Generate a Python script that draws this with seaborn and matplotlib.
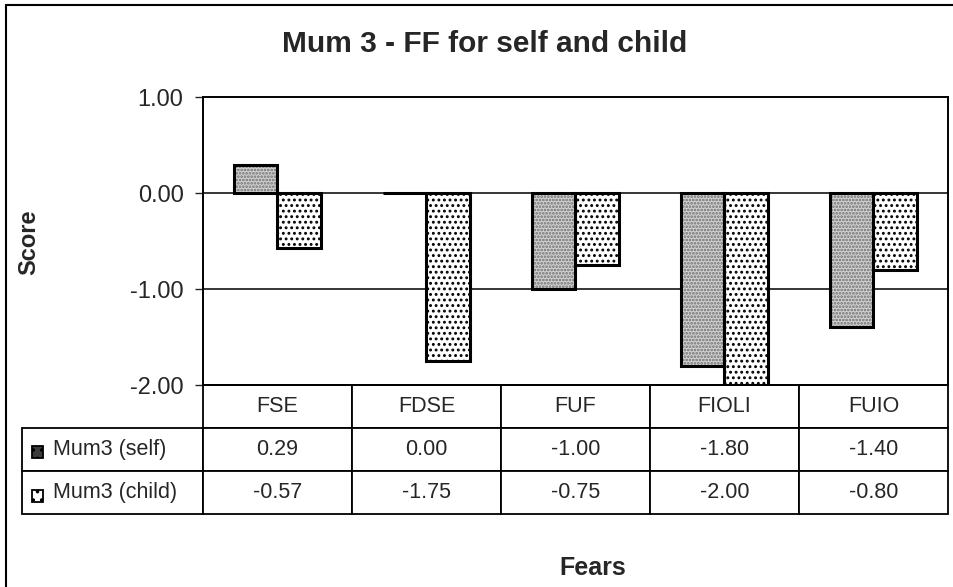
import numpy as np
import pandas as pd
import matplotlib
matplotlib.use("Agg")
import matplotlib.pyplot as plt
import seaborn as sns
from matplotlib.patches import Rectangle
from matplotlib.lines import Line2D

categories = ['FSE', 'FDSE', 'FUF', 'FIOLI', 'FUIO']
series = ['Mum3 (self)', 'Mum3 (child)']
self_vals = [0.29, 0.00, -1.00, -1.80, -1.40]
child_vals = [-0.57, -1.75, -0.75, -2.00, -0.80]
yticks = [1.0, 0.0, -1.0, -2.0]

df = pd.DataFrame({'Fears': categories * 2,
                   'Score': self_vals + child_vals,
                   'who': [series[0]] * 5 + [series[1]] * 5})

sns.set_style("white")
plt.rcParams['font.family'] = ['Liberation Sans', 'DejaVu Sans']
plt.rcParams['hatch.linewidth'] = 1.3

W, H = 954, 587
fig = plt.figure(figsize=(W / 100, H / 100), dpi=100)
# plot area: x 203..948, y 97..385 (pixels)
ax = fig.add_axes([203 / W, 1 - 385 / H, 745 / W, 288 / H])

# fill pass (hatch colour follows edge colour, so edges set per series)
sns.barplot(data=df, x='Fears', y='Score', hue='who', order=categories,
            hue_order=series, width=0.58, gap=0, legend=False, ax=ax,
            linewidth=0)
face = ['#d2d2d2', 'white']
hcol = ['#6e6e6e', 'black']
hatch = ['.....', '...']
for i, cont in enumerate(ax.containers):
    for p in cont:
        p.set_facecolor(face[i])
        p.set_edgecolor(hcol[i])
        p.set_hatch(hatch[i])
        p.set_linewidth(0)

# outline pass
sns.barplot(data=df, x='Fears', y='Score', hue='who', order=categories,
            hue_order=series, width=0.58, gap=0, legend=False, ax=ax,
            fill=False, linewidth=2.2)
for cont in ax.containers[2:]:
    for p in cont:
        p.set_edgecolor('black')
        p.set_facecolor('none')

ax.set_ylim(-2, 1)
ax.set_xlim(-0.5, 4.5)
ax.set_yticks(yticks)
ax.set_yticklabels(['%.2f' % v for v in yticks], fontsize=17)
ax.tick_params(axis='y', left=True, length=6, width=1, direction='out', pad=8)
ax.set_xticks([])
ax.set_xlabel('Fears', fontsize=18, fontweight='bold', va='top')
ax.set_ylabel('Score', fontsize=17, fontweight='bold')
ax.yaxis.set_label_coords(-0.219, 0.497)
ax.xaxis.set_label_coords(0.523, -0.594)
for v in [0.0, -1.0]:
    ax.axhline(v, color='black', lw=1.1, zorder=0.5)
for s in ax.spines.values():
    s.set_color('black')
    s.set_linewidth(1.4)

fig.text(485 / W, 1 - 44 / H, 'Mum 3 - FF for self and child',
         ha='center', va='center', fontsize=21.5, fontweight='bold')

# chart area border (left and top edges visible)
fig.add_artist(Line2D([6 / W, 6 / W], [0, 1 - 5 / H], color='black', lw=1.5))
fig.add_artist(Line2D([6 / W, 1], [1 - 5 / H, 1 - 5 / H], color='black', lw=1.5))

cell_text = [[series[0]] + ['%.2f' % v for v in self_vals],
             [series[1]] + ['%.2f' % v for v in child_vals]]
tbl = ax.table(cellText=cell_text, colLabels=[''] + categories,
               cellLoc='center', colWidths=[181] + [149] * 5,
               bbox=[-181 / 745, -129 / 288, 926 / 745, 129 / 288])
tbl.auto_set_font_size(False)
tbl.set_fontsize(15.5)
for (r, c), cell in tbl.get_celld().items():
    cell.set_edgecolor('black')
    cell.set_linewidth(1.3)
    if r == 0 and c == 0:
        cell.visible_edges = ''
    if c == 0 and r > 0:
        cell._loc = 'left'
        cell.PAD = 0.17
        cell.get_text().set_ha('left')

# legend keys inside the table's first column
key_face = ['#3c3c3c', 'white']
key_y = [452, 496]
for i in range(2):
    ax.add_patch(Rectangle(((32 - 203) / 745, (385 - key_y[i] - 6) / 288),
                           11 / 745, 12 / 288, transform=ax.transAxes,
                           clip_on=False, facecolor=key_face[i],
                           hatch='..', edgecolor='black', lw=1.3))

plt.savefig('out.png', dpi=100)
